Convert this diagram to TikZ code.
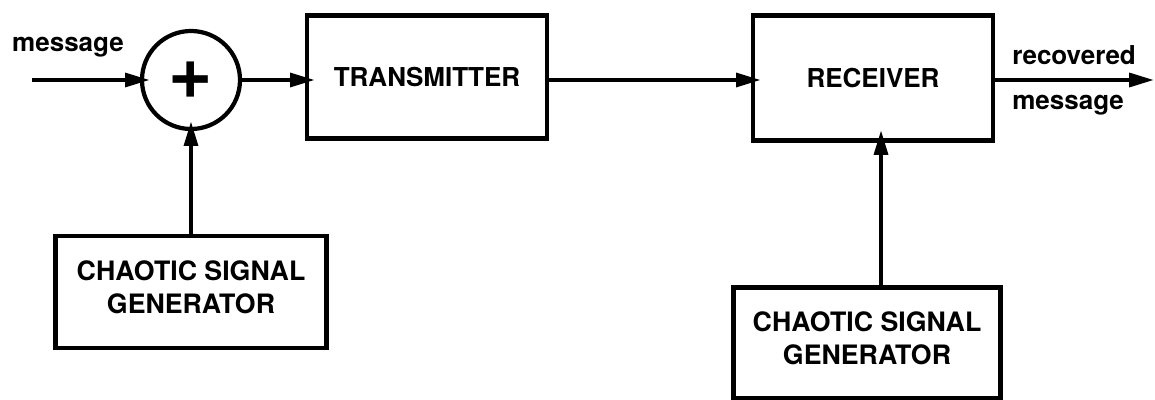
\documentclass[tikz,border=0pt]{standalone}
\usepackage{fontspec}
\setmainfont{TeX Gyre Heros}
\usetikzlibrary{arrows.meta,positioning}
\tikzset{
  blockbox/.style={
    draw,
    line width=3pt,
    align=center,
    inner sep=0pt,
    font=\fontsize{18.5pt}{23.5pt}\selectfont\bfseries
  },
  genbox/.style={blockbox, font=\fontsize{19pt}{23.5pt}\selectfont\bfseries, text depth=0.25cm},
  sumnode/.style={circle, draw, line width=3pt, minimum size=2.45cm, inner sep=0pt},
  sigarrow/.style={-{Triangle[length=0.62cm, width=0.34cm]}, line width=3pt, shorten >=-0.25cm},
  siglabel/.style={font=\fontsize{18.5pt}{24pt}\selectfont\bfseries, inner sep=0pt}
}
\begin{document}
\begin{tikzpicture}[x=0.025cm, y=-0.025cm]
  \useasboundingbox (0,0) rectangle (1155,400);

  \node[sumnode] (sum) at (191,80) {\fontsize{54pt}{54pt}\selectfont\bfseries +};
  \node[blockbox, minimum width=6cm, minimum height=3.075cm] (tx) at (427,77) {TRANSMITTER};
  \node[blockbox, minimum width=6cm, minimum height=3.125cm] (rx) at (873,78) {RECEIVER};
  \node[genbox, minimum width=6.775cm, minimum height=2.8cm] (csgtx) at (191,292) {CHAOTIC SIGNAL\\GENERATOR};
  \node[genbox, minimum width=6.675cm, minimum height=2.775cm] (csgrx) at (867,343) {CHAOTIC SIGNAL\\GENERATOR};

  \node[siglabel] (msgin) at (68,47) {message};
  \node[siglabel, anchor=west] (recup) at (1012,55) {recovered};
  \node[siglabel, anchor=west] (reclow) at (1012,105) {message};

  \coordinate (msgstart) at (32,80);
  \coordinate (outend) at (1154,80);
  \coordinate (rxin) at (881,140);

  \draw[sigarrow] (msgstart) -- (sum.west);
  \draw[sigarrow] (sum.east) -- (sum.east -| tx.west);
  \draw[sigarrow] (sum -| tx.east) -- (sum -| rx.west);
  \draw[sigarrow, shorten >=0pt] (sum -| rx.east) -- (outend);
  \draw[sigarrow] (csgtx.north) -- (sum.south);
  \draw[sigarrow] (csgrx.north -| rxin) -- (rxin);
\end{tikzpicture}
\end{document}
